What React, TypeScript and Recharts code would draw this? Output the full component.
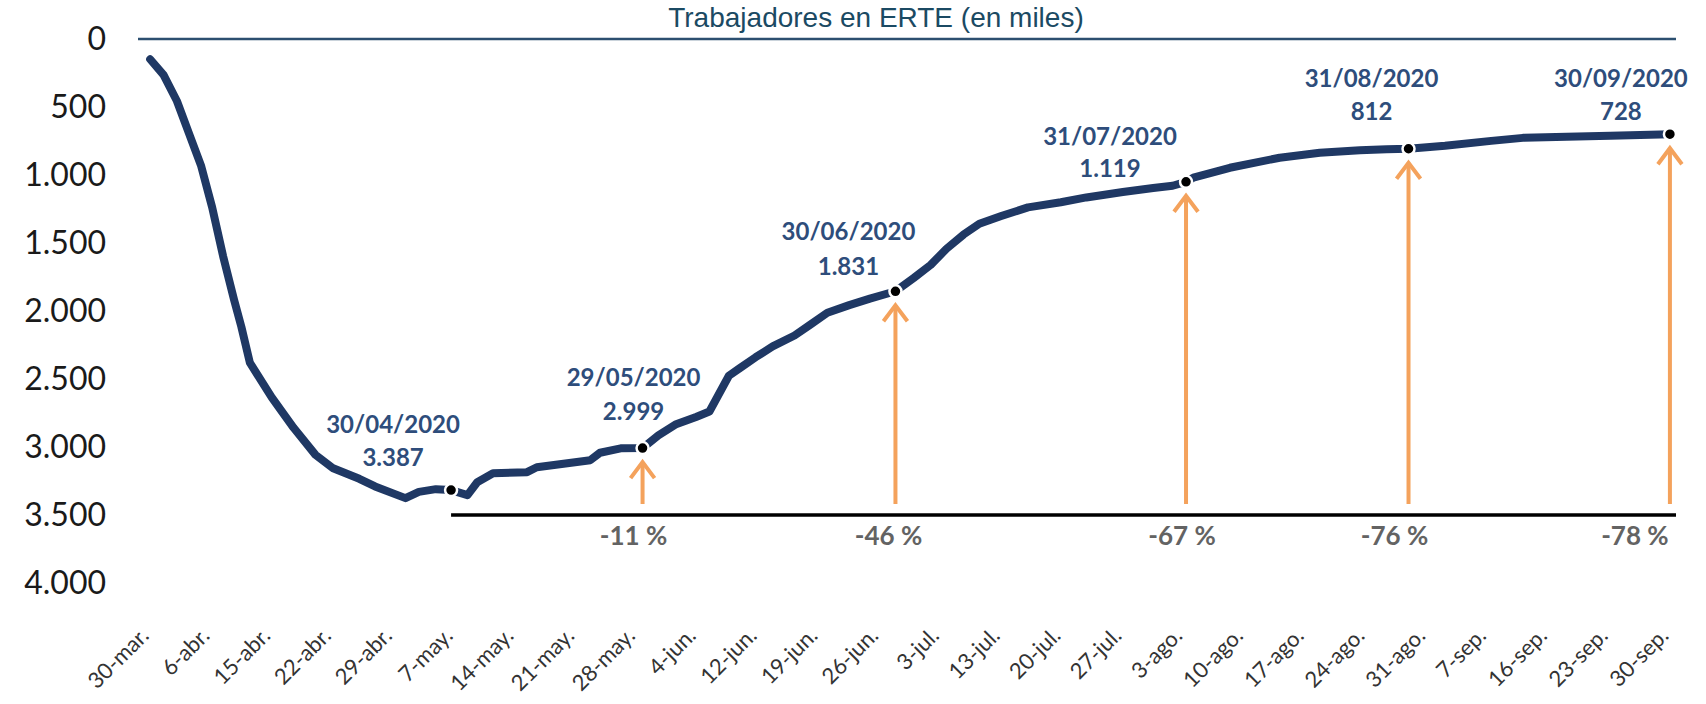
import React from 'react';
import { ComposedChart, Line, Scatter, XAxis, YAxis, ReferenceLine } from 'recharts';

// x = working-day position (a label every 5 positions), y = workers in ERTE (thousands)
const dayIdx = [
  0, 1.1, 2.2, 3.3, 4.2, 5.1, 6.0, 6.9, 7.5, 8.2, 10, 11.8, 13.6, 15, 17.2, 18.5, 21, 22.1, 23.5,
  24.75, 26.1, 26.9, 28.2, 31, 31.8, 36.2, 37, 38.7, 40.5, 41.8, 43.2, 44.9, 46, 47.6, 48.5, 49.8,
  51.2, 53, 54.3, 55.7, 57.5, 59.2, 61.3, 62.8, 64.2, 65.5, 66.9, 68.2, 70, 72.2, 74.9, 77, 80, 82.5,
  84.1, 85.2, 85.8, 88.8, 92.9, 96.2, 99.5, 101.7, 103.5, 106.5, 110.3, 112.9, 116.5, 120.1, 125,
];
const erteMiles = [
  149, 264, 456, 719, 935, 1238, 1597, 1917, 2116, 2380, 2635, 2859, 3058, 3154, 3234, 3290, 3376, 3330, 3310,
  3317, 3354, 3259, 3193, 3185, 3149, 3097, 3042, 3010, 3008, 2915, 2835, 2779, 2739, 2476, 2420, 2340,
  2260, 2180, 2100, 2013, 1957, 1909, 1855, 1757, 1661, 1542, 1438, 1358, 1302, 1238, 1200, 1165, 1125, 1095,
  1079, 1050, 1020, 947, 873, 837, 818, 810, 807, 785, 749, 727, 719, 711, 700,
];

const tickLabels = [
  '30-mar.', '6-abr.', '15-abr.', '22-abr.', '29-abr.', '7-may.', '14-may.', '21-may.', '28-may.',
  '4-jun.', '12-jun.', '19-jun.', '26-jun.', '3-jul.', '13-jul.', '20-jul.', '27-jul.', '3-ago.',
  '10-ago.', '17-ago.', '24-ago.', '31-ago.', '7-sep.', '16-sep.', '23-sep.', '30-sep.',
];
const yTicks = [0, 500, 1000, 1500, 2000, 2500, 3000, 3500, 4000];

// highlighted dates
const annotIdx = [24.75, 40.5, 61.3, 85.2, 103.5, 125];
const annotValue = [3317, 3008, 1855, 1050, 807, 700];
const annotDate = ['30/04/2020', '29/05/2020', '30/06/2020', '31/07/2020', '31/08/2020', '30/09/2020'];
const annotText = ['3.387', '2.999', '1.831', '1.119', '812', '728'];
const annotChange = [null, '-11 %', '-46 %', '-67 %', '-76 %', '-78 %'];
const baseLevel = 3500;

// label placement (pixels, relative to the dot)
const labelOffsets = [
  { dx: -58, date: -67, val: -34, pct: 0 },
  { dx: -9, date: -72, val: -38, pct: -9 },
  { dx: -47, date: -61, val: -26, pct: -7 },
  { dx: -76, date: -46, val: -14, pct: -4 },
  { dx: -37, date: -71, val: -38, pct: -14 },
  { dx: -49, date: -57, val: -24, pct: -35 },
];

const NAVY = '#1f3864';
const LABEL = '#2e4d7b';
const ORANGE = '#f4a25c';
const FONT = 'Lato, "Open Sans", sans-serif';

const series = dayIdx.map((idx, i) => ({ idx, value: erteMiles[i] }));
const points = annotIdx.map((idx, k) => ({ idx, value: annotValue[k], k }));

const fmt = (v: number) => String(v).replace(/\B(?=(\d{3})+(?!\d))/g, '.');

const XTick = (props: any) => {
  const { x, y, payload } = props;
  return (
    <g transform={`translate(${x},${y})`}>
      <text transform="rotate(-45)" textAnchor="end" fontFamily={FONT} fontSize={22} fill="#333">
        {tickLabels[Math.round(payload.value / 5)]}
      </text>
    </g>
  );
};

const AnnotDot = (props: any) => {
  const { cx, cy, payload } = props;
  const k = payload.k;
  const o = labelOffsets[k];
  return (
    <g>
      <circle cx={cx} cy={cy} r={6} fill="#000" stroke="#fff" strokeWidth={2.5} />
      <text x={cx + o.dx} y={cy + o.date} textAnchor="middle" dominantBaseline="central"
        fontFamily={FONT} fontWeight={700} fontSize={24} fill={LABEL}>
        {annotDate[k]}
      </text>
      <text x={cx + o.dx} y={cy + o.val} textAnchor="middle" dominantBaseline="central"
        fontFamily={FONT} fontWeight={700} fontSize={24} fill={LABEL}>
        {annotText[k]}
      </text>
    </g>
  );
};

const makeArrow = (k: number) => (props: any) => {
  const { x1, y1, y2 } = props;
  const bottom = Math.max(y1, y2) - 11;
  const top = Math.min(y1, y2) + 12;
  return (
    <g>
      <line x1={x1} y1={bottom} x2={x1} y2={top + 2} stroke={ORANGE} strokeWidth={4} />
      <polyline points={`${x1 - 12},${top + 18} ${x1},${top + 2} ${x1 + 12},${top + 18}`}
        fill="none" stroke={ORANGE} strokeWidth={4} strokeLinejoin="miter" />
      <text x={x1 + labelOffsets[k].pct} y={Math.max(y1, y2) + 30} textAnchor="middle"
        fontFamily={FONT} fontWeight={700} fontSize={26} fill="#636363">
        {annotChange[k]}
      </text>
    </g>
  );
};

export default function App() {
  return (
    <div style={{ position: 'absolute', left: 0, top: 0, width: 1706, height: 704, background: '#fff' }}>
      <div style={{
        position: 'absolute', left: 0, width: 1752, top: 2, textAlign: 'center',
        fontFamily: '"Liberation Sans", Arial, sans-serif', fontSize: 28, color: '#1b4a63',
      }}>
        Trabajadores en ERTE (en miles)
      </div>
      <ComposedChart width={1706} height={704} data={series}
        margin={{ top: 39, right: 30, bottom: 21, left: 0 }}>
        <XAxis dataKey="idx" type="number" domain={[-1, 125.5]} ticks={tickLabels.map((_, i) => i * 5)}
          axisLine={false} tickLine={false} tickSize={0} tickMargin={54} height={100}
          tick={<XTick />} interval={0} />
        <YAxis type="number" domain={[0, 4000]} reversed ticks={yTicks} width={138}
          axisLine={false} tickLine={false} tickSize={0} tickMargin={32} interval={0}
          tickFormatter={fmt} tick={{ fontFamily: FONT, fontSize: 32, fill: '#1a1a1a' }} />
        <ReferenceLine y={0} stroke="#2c4f70" strokeWidth={2.5} />
        <ReferenceLine segment={[{ x: annotIdx[0], y: baseLevel }, { x: 125.5, y: baseLevel }]}
          stroke="#000" strokeWidth={3.5} />
        {annotIdx.slice(1).map((idx, j) => (
          <ReferenceLine key={idx}
            segment={[{ x: idx, y: baseLevel }, { x: idx, y: annotValue[j + 1] }]}
            shape={makeArrow(j + 1)} />
        ))}
        <Line dataKey="value" type="linear" stroke={NAVY} strokeWidth={8} dot={false}
          strokeLinejoin="round" strokeLinecap="round" isAnimationActive={false} />
        <Scatter data={points} dataKey="value" shape={<AnnotDot />} isAnimationActive={false} />
      </ComposedChart>
    </div>
  );
}
